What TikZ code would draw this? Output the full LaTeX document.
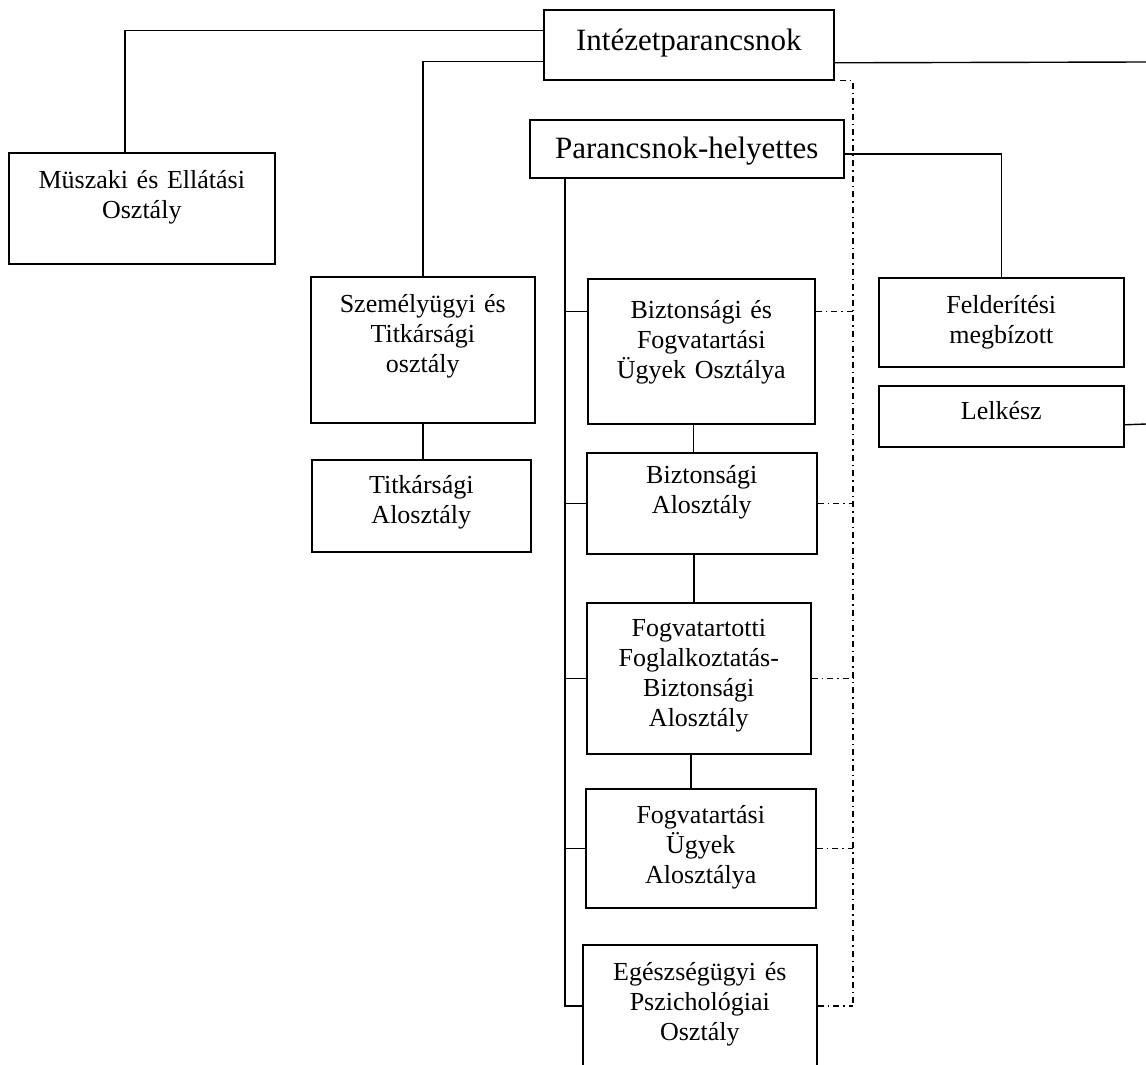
\documentclass[tikz,border=0pt]{standalone}
\usepackage{fontspec}
\setmainfont{Liberation Serif}
\usetikzlibrary{calc}
\tikzset{
  unit/.style={draw=black, line width=1.6pt, anchor=north west, inner sep=0pt,
               align=center, font=\fontsize{26}{30}\selectfont},
  head/.style={unit, font=\fontsize{31}{36}\selectfont},
  link/.style={draw=black, line width=1.4pt},
  dotlink/.style={draw=black, line width=1.4pt,
                  dash pattern=on 6pt off 4pt on 1.5pt off 4pt}
}

\begin{document}
\begin{tikzpicture}[x=1pt,y=-1pt]
    \useasboundingbox (0,0) rectangle (1146,1065);
    \fill[white] (0,0) rectangle (1146,1065);

    % ===== top level =====
    \node[head, minimum width=290pt, text width=290pt, minimum height=70pt,
          text height=41pt, text depth=29pt] (chief) at (543,9) {Intézetparancsnok};
    \node[head, minimum width=314pt, text width=314pt, minimum height=58pt,
          text height=39pt, text depth=19pt] (deputy) at (529,119) {Parancsnok-helyettes};

    % ===== left column =====
    \node[unit, minimum width=266pt, text width=266pt, minimum height=111pt,
          text height=36pt, text depth=75pt] (muszaki) at (8,152) {Müszaki és Ellátási\\Osztály};
    \node[unit, minimum width=224pt, text width=224pt, minimum height=146pt,
          text height=36pt, text depth=110pt] (szem) at (310,276) {Személyügyi és\\Titkársági\\osztály};
    \node[unit, minimum width=219pt, text width=219pt, minimum height=92pt,
          text height=34pt, text depth=58pt] (titk) at (311,459) {Titkársági\\Alosztály};

    % ===== middle column =====
    \node[unit, minimum width=227pt, text width=227pt, minimum height=145pt,
          text height=40pt, text depth=105pt] (bfo) at (587,278) {Biztonsági és\\Fogvatartási\\Ügyek Osztálya};
    \node[unit, minimum width=230pt, text width=230pt, minimum height=101pt,
          text height=31pt, text depth=70pt] (bal) at (586,452) {Biztonsági\\Alosztály};
    \node[unit, minimum width=224pt, text width=224pt, minimum height=151pt,
          text height=34pt, text depth=117pt] (ffb) at (586,602) {Fogvatartotti\\Foglalkoztatás-\\Biztonsági\\Alosztály};
    \node[unit, minimum width=230pt, text width=230pt, minimum height=119pt,
          text height=35pt, text depth=84pt] (fua) at (585,788) {Fogvatartási\\Ügyek\\Alosztálya};
    \node[unit, minimum width=234pt, text width=234pt, minimum height=122pt,
          text height=36pt, text depth=86pt] (health) at (582,944) {Egészségügyi és\\Pszichológiai\\Osztály};

    % ===== right column =====
    \node[unit, minimum width=245pt, text width=245pt, minimum height=89pt,
          text height=36pt, text depth=53pt] (felder) at (878,277) {Felderítési\\megbízott};
    \node[unit, minimum width=245pt, text width=245pt, minimum height=61pt,
          text height=34pt, text depth=27pt] (lelkesz) at (878,385) {Lelkész};

    % free ends and taps
    \coordinate (rimTop) at (1146,62);
    \coordinate (rimLow) at (1146,424);
    \coordinate (spine) at ([xshift=36pt]deputy.south west);
    \coordinate (dotEnd) at (853,1006);
    \coordinate (bfoTap) at ($(bfo.north west)!0.23!(bfo.south west)$);

    % ===== solid links =====
    \draw[link] ([yshift=14pt]chief.west) -| ([xshift=-17pt]muszaki.north);
    \draw[link] ([yshift=-17pt]chief.west) -| (szem.north);
    \draw[link] ([yshift=-18pt]chief.east) -- (rimTop);
    \draw[link] ([yshift=-5pt]deputy.east) -| (felder.north);
    \draw[link] ([yshift=-8.5pt]lelkesz.east) -- (rimLow);
    \draw[link] (szem.south) -- (szem.south |- titk.north);
    \draw[link] (spine) |- (health.west);
    \draw[link] (spine |- bfoTap) -- (bfoTap);
    \foreach \n in {bal,ffb,fua}
      \draw[link] (spine |- \n.west) -- (\n.west);
    \foreach \a/\b in {bfo/bal,bal/ffb,ffb/fua}
      \draw[link] ([xshift=-8pt]\a.south) -- ([xshift=-8pt]\a.south |- \b.north);

    % ===== dash-dot links =====
    \draw[dotlink] ([xshift=5pt]chief.south east) -| (dotEnd);
    \draw[dotlink] (bfoTap -| bfo.east) -- (bfoTap -| dotEnd);
    \foreach \n in {bal,ffb,fua,health}
      \draw[dotlink] (\n.east) -- (\n.east -| dotEnd);
\end{tikzpicture}
\end{document}
